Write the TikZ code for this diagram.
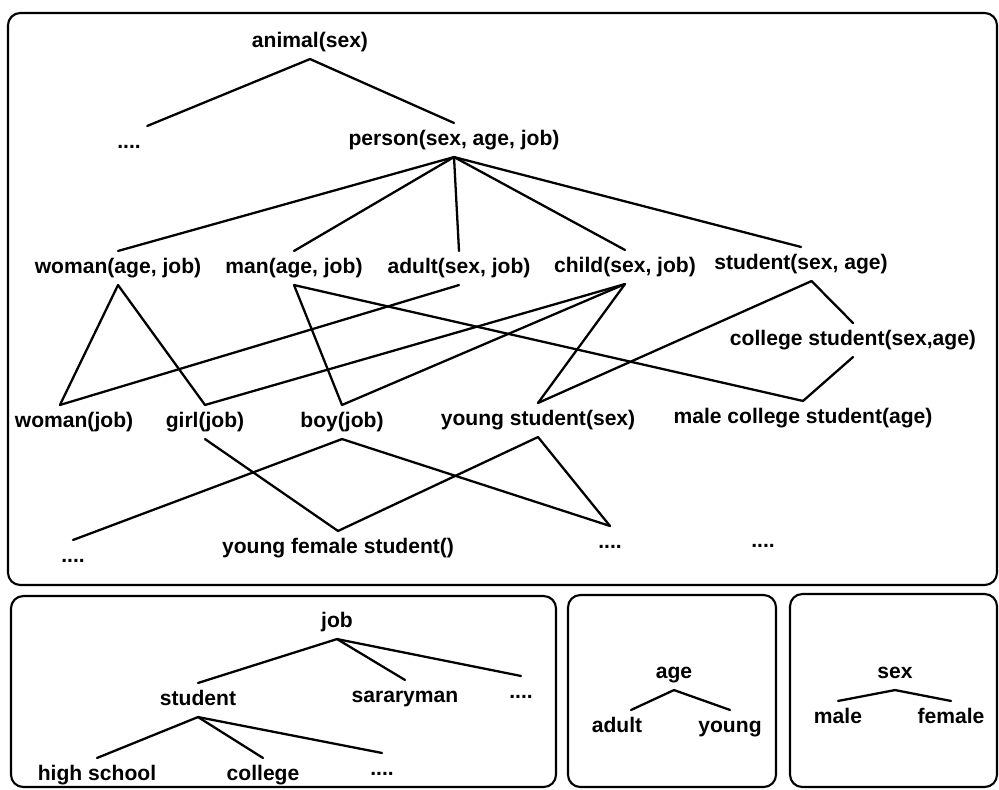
\documentclass[tikz,border=0pt]{standalone}
\usepackage{fontspec}
\setmainfont{Liberation Sans}
\usepackage{tikz}
\tikzstyle{classe}=[
        font=\fontsize{12}{14}\selectfont\bfseries,
        inner sep=3.5pt,
        text height=9pt,
        text depth=3pt
]
\tikzstyle{cadre}=[line width=1.2pt,rounded corners=7pt]
\tikzstyle{isa}=[line width=1.3pt,line cap=round]
\begin{document}
\begin{tikzpicture}[x=0.02cm,y=-0.02cm]
\useasboundingbox (0,0) rectangle (999,789);
%Frames
\draw[cadre] (8,13) rectangle (997,585);
\draw[cadre] (11,596) rectangle (556,787);
\draw[cadre] (568,595) rectangle (776,787);
\draw[cadre] (790,594) rectangle (997,787);
%Object hierarchy
\node[classe] (animal) at (310,42) {animal(sex)};
\node[classe] (etc1) at (129,143) {....};
\node[classe] (person) at (454,140) {person(sex, age, job)};
\node[classe] (womanaj) at (118,268) {woman(age, job)};
\node[classe] (manaj) at (294,268) {man(age, job)};
\node[classe] (adultsj) at (459,268) {adult(sex, job)};
\node[classe] (childsj) at (625,267) {child(sex, job)};
\node[classe] (studsa) at (801,264) {student(sex, age)};
\node[classe] (collsa) at (853,340) {college student(sex,age)};
\node[classe] (womanj) at (74,422) {woman(job)};
\node[classe] (girlj) at (205,422) {girl(job)};
\node[classe] (boyj) at (342,422) {boy(job)};
\node[classe] (youngs) at (538,420) {young student(sex)};
\node[classe] (malecs) at (803,418) {male college student(age)};
\node[classe] (etc2) at (73,557) {....};
\node[classe] (yfs) at (338,548) {young female student()};
\node[classe] (etc3) at (610,543) {....};
\node[classe] (etc4) at (763,542) {....};
%Attribute hierarchies
\node[classe] (job) at (337,622) {job};
\node[classe] (student) at (198,700) {student};
\node[classe] (sararyman) at (405,697) {sararyman};
\node[classe] (etc5) at (521,693) {....};
\node[classe] (highschool) at (97,775) {high school};
\node[classe] (college) at (263,775) {college};
\node[classe] (etc6) at (382,770) {....};
\node[classe] (age) at (674,673) {age};
\node[classe] (adult) at (617,727) {adult};
\node[classe] (young) at (730,727) {young};
\node[classe] (sex) at (895,673) {sex};
\node[classe] (male) at (838,718) {male};
\node[classe] (female) at (951,718) {female};
%Drawing Edges
\draw[isa] (animal.south) -- (etc1.north east);
\draw[isa] (animal.south) -- (person.north);
\draw[isa] (person.south) -- (womanaj.north);
\draw[isa] (person.south) -- (manaj.north);
\draw[isa] (person.south) -- (adultsj.north);
\draw[isa] (person.south) -- (childsj.north);
\draw[isa] (person.south) -- (studsa.north);
\draw[isa] (womanaj.south) -- ([xshift=-8pt]womanj.north);
\draw[isa] (womanaj.south) -- (girlj.north);
\draw[isa] (manaj.south) -- (boyj.north);
\draw[isa] (manaj.south) -- (malecs.north);
\draw[isa] (adultsj.south) -- ([xshift=-8pt]womanj.north);
\draw[isa] (childsj.south) -- (girlj.north);
\draw[isa] (childsj.south) -- (boyj.north);
\draw[isa] (childsj.south) -- (youngs.north);
\draw[isa] ([xshift=6pt]studsa.south) -- (youngs.north);
\draw[isa] ([xshift=6pt]studsa.south) -- (collsa.north);
\draw[isa] (collsa.south) -- (malecs.north);
\draw[isa] (girlj.south) -- (yfs.north);
\draw[isa] (boyj.south) -- (etc2.north);
\draw[isa] (boyj.south) -- (etc3.north);
\draw[isa] (youngs.south) -- (yfs.north);
\draw[isa] (youngs.south) -- (etc3.north);
\draw[isa] (job.south) -- (student.north);
\draw[isa] (job.south) -- (sararyman.north);
\draw[isa] (job.south) -- (etc5.north);
\draw[isa] (student.south) -- (highschool.north);
\draw[isa] (student.south) -- (college.north);
\draw[isa] (student.south) -- (etc6.north);
\draw[isa] (age.south) -- ([xshift=8pt]adult.north);
\draw[isa] (age.south) -- (young.north);
\draw[isa] (sex.south) -- (male.north);
\draw[isa] (sex.south) -- (female.north);
\end{tikzpicture}
\end{document}
